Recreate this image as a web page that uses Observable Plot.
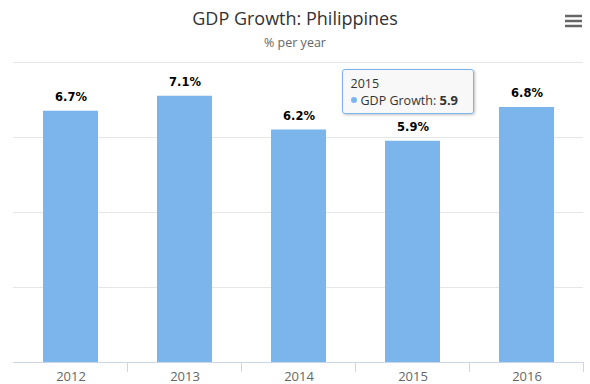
<!DOCTYPE html>
<html>
<head>
<meta charset="utf-8">
<script src="https://cdn.jsdelivr.net/npm/d3@7"></script>
<script src="https://cdn.jsdelivr.net/npm/@observablehq/plot@0.6"></script>
<style>
  html, body { margin: 0; padding: 0; background: #fff; }
  #wrap { position: relative; width: 590px; height: 384px; overflow: hidden; font-family: "Open Sans", sans-serif; }
  #header { position: relative; width: 590px; height: 55px; }
  #title { position: absolute; left: 0; width: 590px; top: 9px; text-align: center; font-size: 18px; line-height: 18px; color: #333; white-space: nowrap; }
  #subtitle { position: absolute; left: 0; width: 590px; top: 36px; text-align: center; font-size: 12.5px; line-height: 13px; color: #666; white-space: nowrap; }
  #menu { position: absolute; left: 564px; top: 14px; }
  #chart svg { display: block; }
  #tooltip { position: absolute; box-sizing: border-box; width: 132px; height: 45px; border: 1px solid #7cb5ec; border-radius: 3px;
    background: rgba(247,247,247,0.85); box-shadow: 1px 1px 3px rgba(0,0,0,0.25); font-size: 12.5px; color: #333; padding: 6px 0 0 8px; line-height: 16px; white-space: nowrap; }
  #tooltip .dot { display: inline-block; width: 6px; height: 6px; border-radius: 3px; background: #7cb5ec; margin: 0 4px 2px 0; vertical-align: middle; }
  #tooltip b { font-size: 13px; }
</style>
</head>
<body>
<div id="wrap">
  <div id="header">
    <div id="title"></div>
    <div id="subtitle"></div>
    <svg id="menu" width="19" height="14"><g stroke="#666" stroke-width="2.5"><line x1="1" x2="18" y1="2" y2="2"/><line x1="1" x2="18" y1="7" y2="7"/><line x1="1" x2="18" y1="12" y2="12"/></g></svg>
  </div>
  <div id="chart"></div>
  <div id="tooltip"></div>
</div>
<script>
const titleText = "GDP Growth: Philippines";
const subtitleText = "% per year";
const years = ["2012", "2013", "2014", "2015", "2016"];
const growth = [6.7, 7.1, 6.2, 5.9, 6.8];
const yTicks = [0, 2, 4, 6, 8];
const seriesName = "GDP Growth";
const tooltipYear = "2015";

document.getElementById("title").textContent = titleText;
document.getElementById("subtitle").textContent = subtitleText;

const data = years.map((year, i) => ({year, value: growth[i]}));
const headerH = 55;

const chart = Plot.plot({
  width: 590,
  height: 329,
  marginTop: 7,
  marginBottom: 22,
  marginLeft: 13,
  marginRight: 7,
  style: {fontFamily: "Open Sans", fontSize: "13px", color: "#666", background: "transparent", overflow: "visible"},
  x: {domain: years, paddingInner: 0.52, paddingOuter: 0.26, label: null},
  y: {domain: [yTicks[0], yTicks[yTicks.length - 1]], label: null, axis: null},
  marks: [
    Plot.gridY(yTicks.filter(t => t > 0), {stroke: "#e6e6e6", strokeOpacity: 1}),
    Plot.barY(data, {x: "year", y: "value", fill: "#7cb5ec"}),
    Plot.ruleY([0], {stroke: "#ccd6eb"}),
    Plot.axisX({tickSize: 0, tickPadding: 9, fontSize: 13, fill: "#666"}),
    Plot.text(data, {x: "year", y: "value", text: d => d.value.toFixed(1) + "%", dy: -14, lineAnchor: "middle",
      fontWeight: "bold", fontFamily: "DejaVu Sans", fontSize: 11.5, fill: "#000"})
  ]
});
document.getElementById("chart").appendChild(chart);

// category boundary ticks, placed via the Plot scales
const sx = chart.scale("x");
const sy = chart.scale("y");
const y0 = sy.apply(0);
const bounds = years.slice(1).map(yr => sx.apply(yr) + sx.bandwidth / 2 - sx.step / 2);
bounds.push(sx.apply(years[years.length - 1]) + sx.bandwidth / 2 + sx.step / 2);
d3.select(chart).append("g")
  .selectAll("line").data(bounds).join("line")
  .attr("x1", d => d).attr("x2", d => d)
  .attr("y1", y0).attr("y2", y0 + 10)
  .attr("stroke", "#ccd6eb");

// tooltip anchored to the hovered bar
const ti = years.indexOf(tooltipYear);
const tipCx = sx.apply(tooltipYear) + sx.bandwidth / 2;
const tipTop = sy.apply(growth[ti]) + headerH;
const tt = document.getElementById("tooltip");
tt.innerHTML = `<div>${tooltipYear}</div><div><span class="dot"></span>${seriesName}: <b>${growth[ti]}</b></div>`;
tt.style.left = (tipCx - 71) + "px";
tt.style.top = (tipTop - 72) + "px";
</script>
</body>
</html>
